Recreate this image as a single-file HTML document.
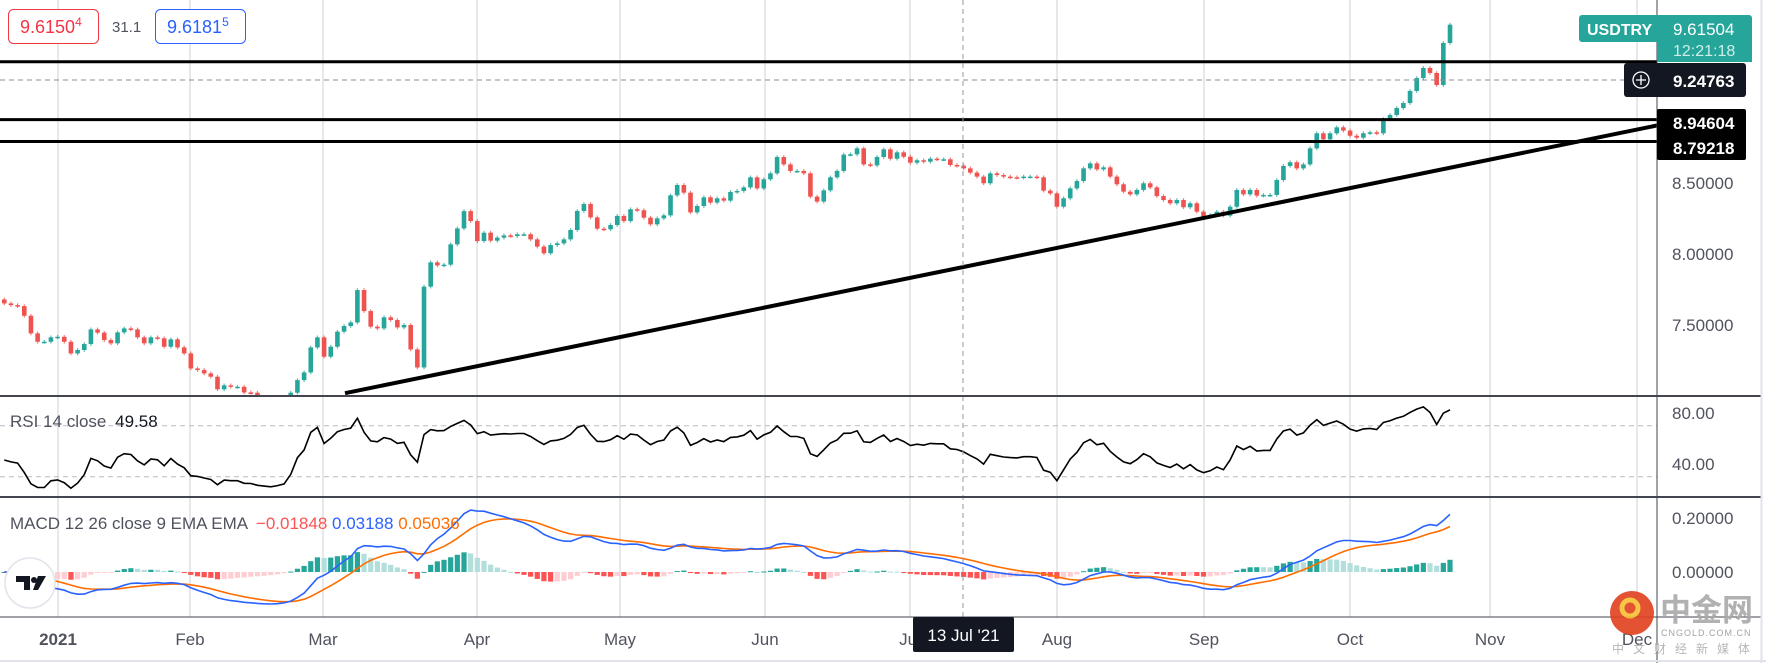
<!DOCTYPE html>
<html><head><meta charset="utf-8">
<style>
html,body{margin:0;padding:0;background:#fff;}
svg{display:block;font-family:"Liberation Sans","Noto Sans CJK SC",sans-serif;}
</style></head>
<body>
<svg id="chart" width="1766" height="663" viewBox="0 0 1766 663" xmlns="http://www.w3.org/2000/svg">
<defs>
<clipPath id="pclip"><rect x="0" y="0" width="1657" height="396"/></clipPath>
</defs>
<rect x="0" y="0" width="1766" height="663" fill="#fff"/>
<g id="grid"></g>
<g id="price" clip-path="url(#pclip)"></g>
<g id="rsi"></g>
<g id="macd"></g>
<g id="overlay"></g>
</svg>
<script>
const closes = [7.652,7.640,7.633,7.565,7.441,7.382,7.382,7.413,7.417,7.382,7.300,7.324,7.366,7.469,7.446,7.394,7.371,7.448,7.476,7.469,7.413,7.371,7.413,7.406,7.347,7.399,7.342,7.300,7.194,7.183,7.159,7.136,7.047,7.075,7.065,7.065,7.025,7.023,6.995,6.983,6.971,6.976,6.983,7.023,7.112,7.166,7.342,7.413,7.277,7.347,7.453,7.493,7.518,7.746,7.598,7.488,7.476,7.554,7.535,7.483,7.500,7.328,7.201,7.770,7.941,7.920,7.925,8.068,8.180,8.302,8.232,8.091,
8.150,8.094,8.115,8.131,8.127,8.139,8.139,8.103,8.052,8.005,8.063,8.075,8.103,8.169,8.303,8.352,8.258,8.178,8.174,8.204,8.268,8.232,8.315,8.308,8.256,8.209,8.251,8.272,8.413,8.486,8.432,8.293,8.338,8.399,8.362,8.392,8.376,8.437,8.444,8.469,8.540,8.462,8.526,8.568,8.683,8.631,8.585,8.585,8.568,8.404,8.369,8.448,8.540,8.585,8.700,8.702,8.744,8.631,8.624,8.683,8.737,8.671,8.716,8.685,8.643,8.660,8.650,8.671,8.667,
8.667,
8.627,8.622,8.603,8.573,8.545,8.498,8.568,8.556,8.545,8.540,8.538,8.545,8.545,8.540,8.446,8.427,8.333,8.392,8.462,8.514,8.603,8.638,8.596,8.610,8.545,8.491,8.439,8.420,8.451,8.498,8.469,8.408,8.380,8.357,8.380,8.329,8.357,8.298,8.263,8.275,8.298,8.270,8.333,8.451,8.420,8.451,8.411,8.416,8.416,8.521,8.620,8.646,8.603,8.631,8.744,8.850,8.807,8.850,8.892,8.869,8.833,8.819,8.850,8.857,8.850,8.95,
8.979,9.028,9.063,9.148,9.239,9.310,9.275,9.190,9.486,9.615];
const firstOpen = 7.68;
const monthLabels = ["2021","Feb","Mar","Apr","May","Jun","Jul","Aug","Sep","Oct","Nov","Dec"];
const monthX = [58,190,323,477,620,765,910,1057,1204,1350,1490,1637];
const priceTicks = [8.5,8.0,7.5];
const levelLines = [9.3535,8.94604,8.79218];
const trendPrices = [7.02, 8.905];
const rsiTicks = [80,40];
const macdTicks = [0.2,0.0];
const rsiSeedGain = 0.011, rsiSeedLoss = 0.0145;

const NS="http://www.w3.org/2000/svg";
function mk(tag,attrs,parent){const e=document.createElementNS(NS,tag);for(const k in attrs)e.setAttribute(k,attrs[k]);parent.appendChild(e);return e;}
const n=closes.length;
const x0=4.3, xLast=1450, step=(xLast-x0)/(n-1);
const xAt=i=>x0+i*step;
const yP=p=>112+(9-p)*142;
const yR=v=>413+(80-v)*1.275;
const yM=v=>572-v*270;

const grid=document.getElementById('grid');
monthX.forEach((x,i)=>{
  const l=mk('line',{x1:x,y1:0,x2:x,y2:617,stroke:'#cdd0d6','stroke-width':1},grid);
  
  
});
[70,30].forEach(v=>{
  const l=mk('line',{x1:0,y1:yR(v),x2:1657,y2:yR(v),stroke:'#b8bbc3','stroke-dasharray':'5 4','stroke-width':1},grid);
  
  
});

const price=document.getElementById('price');
const wk=0.013;
for(let i=0;i<n;i++){
  const o=i?closes[i-1]:firstOpen, c=closes[i];
  const up=c>=o, col=up?'#26a69a':'#ef5350';
  const x=xAt(i);
  const hi=Math.max(o,c)+wk, lo=Math.min(o,c)-wk;
  const w=mk('line',{x1:x,y1:yP(hi),x2:x,y2:yP(lo),stroke:col,'stroke-width':1.2,opacity:0.75},price);
  
  
  const top=yP(Math.max(o,c)), bot=yP(Math.min(o,c));
  const b=mk('rect',{x:x-2.3,y:top,width:4.6,height:Math.max(1.5,bot-top),fill:col},price);
  
  
}
levelLines.forEach(p=>{
  const l=mk('line',{x1:0,y1:yP(p),x2:1745,y2:yP(p),stroke:'#000','stroke-width':3},price);
  
  
});
const cl=mk('line',{x1:0,y1:80,x2:1625,y2:80,stroke:'#8a8e98','stroke-dasharray':'5 4','stroke-width':1},price);


const tl=mk('line',{x1:345,y1:yP(trendPrices[0]),x2:1657,y2:yP(trendPrices[1]),stroke:'#000','stroke-width':4},price);



const rsi=[];let ag=rsiSeedGain,al=rsiSeedLoss;
rsi.push([0,100-100/(1+ag/al)]);
for(let i=1;i<n;i++){
  const d=closes[i]-closes[i-1], g=Math.max(d,0), l=Math.max(-d,0);
  ag=(ag*13+g)/14;al=(al*13+l)/14;
  rsi.push([i, al===0?100:100-100/(1+ag/al)]);
}
const rsiG=document.getElementById('rsi');
const rp=mk('path',{d:rsi.map((r,k)=>(k?'L':'M')+xAt(r[0]).toFixed(1)+' '+yR(r[1]).toFixed(1)).join(''),fill:'none',stroke:'#000','stroke-width':1.6},rsiG);



let e12=closes[0],e26=closes[0],sig=0;const macd=[],sg=[],hist=[];
for(let i=0;i<n;i++){
  e12=e12+(closes[i]-e12)*2/13; e26=e26+(closes[i]-e26)*2/27;
  const m=e12-e26; sig=sig+(m-sig)*2/10;
  macd.push(m);sg.push(sig);hist.push(m-sig);
}
const mg=document.getElementById('macd');
for(let i=0;i<n;i++){
  const h=hist[i], prev=i?hist[i-1]:0;
  let col = h>=0 ? (h>=prev?'#26a69a':'#b2dfdb') : (h<prev?'#ff5252':'#ffcdd2');
  const y1=yM(Math.max(h,0)), y2=yM(Math.min(h,0));
  const r=mk('rect',{x:xAt(i)-2.6,y:y1,width:5.2,height:Math.max(1,y2-y1),fill:col},mg);
  
  
}
const sp=mk('path',{d:sg.map((v,i)=>(i?'L':'M')+xAt(i).toFixed(1)+' '+yM(v).toFixed(1)).join(''),fill:'none',stroke:'#ff6d00','stroke-width':1.6},mg);


const mp=mk('path',{d:macd.map((v,i)=>(i?'L':'M')+xAt(i).toFixed(1)+' '+yM(v).toFixed(1)).join(''),fill:'none',stroke:'#2962ff','stroke-width':1.6},mg);



const ov=document.getElementById('overlay');
function line(a,name){const l=mk('line',a,ov);return l;}
function text(x,y,s,a,name){const t=mk('text',Object.assign({x:x,y:y},a),ov);t.textContent=s;return t;}
line({x1:963,y1:0,x2:963,y2:617,stroke:'#9598a1','stroke-dasharray':'5 4','stroke-width':1},'crosshair-vertical');
line({x1:0,y1:396,x2:1761,y2:396,stroke:'#434651','stroke-width':2},'rsi-pane-separator');
line({x1:0,y1:497,x2:1761,y2:497,stroke:'#434651','stroke-width':2},'macd-pane-separator');
line({x1:0,y1:617,x2:1761,y2:617,stroke:'#434651','stroke-width':1},'time-axis-line');
line({x1:1657,y1:0,x2:1657,y2:663,stroke:'#434651','stroke-width':1},'price-axis-border');
line({x1:1761.5,y1:0,x2:1761.5,y2:663,stroke:'#e0e3eb','stroke-width':2},'right-border');
line({x1:0,y1:661,x2:1766,y2:661,stroke:'#e0e3eb','stroke-width':2},'bottom-border');
const axf={'font-size':17,fill:'#50535e'};
priceTicks.forEach(p=>text(1672,yP(p)+6,p.toFixed(5),axf,'price-tick-label'));
rsiTicks.forEach(v=>text(1672,yR(v)+6,v.toFixed(2),axf,'rsi-tick-label'));
macdTicks.forEach(v=>text(1672,yM(v)+6,v.toFixed(5),axf,'macd-tick-label'));
monthLabels.forEach((s,i)=>text(monthX[i],645,s,{'font-size':17,fill:'#50535e','text-anchor':'middle','font-weight':i===0?'bold':'normal'},'time-tick-label'));
</script>
<svg width="1766" height="663" viewBox="0 0 1766 663" style="position:absolute;left:0;top:0;font-family:'Liberation Sans','Noto Sans CJK SC',sans-serif">
<g>
<rect x="8.5" y="9.5" width="90" height="34" rx="5" fill="#fff" stroke="#f23645"/>
<text x="20" y="33" font-size="18" fill="#f23645">9.6150<tspan font-size="12" dy="-7">4</tspan></text>
<text x="112" y="32" font-size="15" fill="#50535e">31.1</text>
<rect x="155.5" y="9.5" width="90" height="34" rx="5" fill="#fff" stroke="#2962ff"/>
<text x="167" y="33" font-size="18" fill="#2962ff">9.6181<tspan font-size="12" dy="-7">5</tspan></text>
</g>
<g>
<rect x="1579" y="15" width="173" height="27" rx="3" fill="#26a69a"/>
<rect x="1657" y="38" width="95" height="24" fill="#26a69a"/>
<text x="1587" y="35" font-size="16" font-weight="bold" fill="#fff">USDTRY</text>
<text x="1673" y="35" font-size="17" fill="#fff">9.61504</text>
<text x="1673" y="56" font-size="16" fill="#cfeeea">12:21:18</text>
<rect x="1624" y="63" width="122" height="34" rx="3" fill="#131722"/>
<circle cx="1641" cy="80" r="8" fill="none" stroke="#fff" stroke-width="1.3"/>
<path d="M1636 80h10M1641 75v10" stroke="#fff" stroke-width="1.3"/>
<text x="1673" y="87" font-size="17" font-weight="bold" fill="#fff">9.24763</text>
<rect x="1657" y="109" width="89" height="51" rx="2" fill="#000"/>
<text x="1673" y="129" font-size="17" font-weight="bold" fill="#fff">8.94604</text>
<text x="1673" y="154" font-size="17" font-weight="bold" fill="#fff">8.79218</text>
</g>
<g>
<text x="10" y="427" font-size="17" fill="#50535e">RSI 14 close <tspan fill="#131722" dx="4">49.58</tspan></text>
<text x="10" y="529" font-size="17" fill="#50535e">MACD 12 26 close 9 EMA EMA <tspan fill="#ff5252" dx="4">−0.01848</tspan> <tspan fill="#2962ff">0.03188</tspan> <tspan fill="#ff6d00">0.05036</tspan></text>
</g>
<g>
<circle cx="30" cy="583" r="25" fill="#fff" stroke="#e0e3eb" stroke-width="1.5"/>
<path d="M16 576h14v14h-6v-8h-8z" fill="#131722"/>
<circle cx="34" cy="580" r="3" fill="#131722"/>
<path d="M38 576h8l-8 14h-5z" fill="#131722"/>
</g>
<g>
<rect x="913" y="617" width="101" height="35" rx="2" fill="#131722"/>
<text x="963.5" y="641" font-size="17" fill="#fff" text-anchor="middle">13 Jul '21</text>
</g>
<g opacity="0.9">
<circle cx="1632" cy="613" r="22" fill="#e0401c"/>
<circle cx="1630" cy="608" r="8" fill="none" stroke="#f7c030" stroke-width="5"/>
<text x="1660" y="621" font-size="31" font-weight="bold" fill="#a9a9a9" font-family="'Noto Sans CJK SC',sans-serif">中金网</text>
<text x="1661" y="636" font-size="9" fill="#9a9a9a" letter-spacing="1">CNGOLD.COM.CN</text>
<text x="1612" y="653" font-size="12" fill="#b0b0b0" letter-spacing="9" font-family="'Noto Sans CJK SC',sans-serif">中文财经新媒体</text>
</g>
</svg>
</body></html>
